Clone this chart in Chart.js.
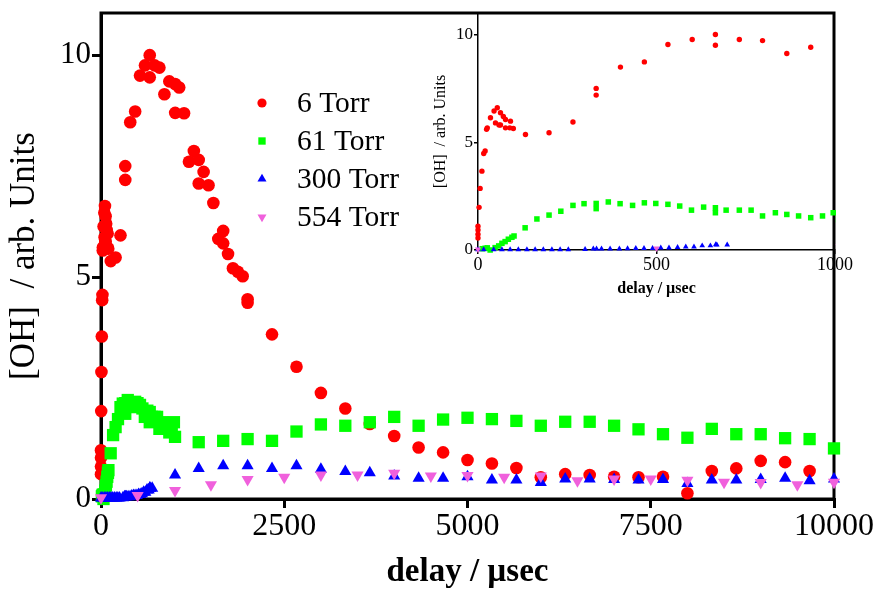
<!DOCTYPE html>
<html>
<head>
<meta charset="utf-8">
<script src="https://cdn.jsdelivr.net/npm/chart.js@4.4.1/dist/chart.umd.min.js"></script>
<style>
	body { margin: 0; background: #fff; }
	#wrap { position: relative; width: 881px; height: 592px; }
	#inset { position: absolute; left: 430px; top: 0; }
</style>
</head>
<body>
<div id="wrap">
	<canvas id="main" width="881" height="592"></canvas>
	<canvas id="inset" width="425" height="300"></canvas>
</div>
<script>
// 6 Torr
const torr6X = [0, 0, 0, 0, 3, 6, 11, 16, 20, 24, 26, 35, 45, 49, 54, 59, 63, 63, 71, 77, 77, 89, 91, 99,
	133, 199, 266, 331, 331, 399, 466, 532, 600, 665, 665, 732, 797, 865, 932, 1012, 1012, 1067, 1133,
	1200, 1267, 1333, 1333, 1400, 1467, 1533, 1600, 1667, 1667, 1733, 1800, 1867, 1933, 2000, 2000,
	2333, 2667, 3000, 3333, 3667, 4000, 4333, 4667, 5000, 5333, 5667, 6000, 6333, 6667, 7000, 7333,
	7667, 8000, 8333, 8667, 9000, 9333, 9667];
const torr6Y = [0.56, 0.73, 0.93, 1.1, 1.98, 2.86, 3.66, 4.48, 4.6, 5.6, 5.67, 6.14, 6.45, 5.9, 6.6, 5.8,
	6.37, 5.8, 6.2, 6.06, 5.67, 5.67, 5.98, 5.64, 5.36, 5.44, 5.94, 7.5, 7.19, 8.49, 8.73, 9.54, 9.77,
	10.0, 9.5, 9.77, 9.72, 9.12, 9.41, 9.35, 8.7, 9.27, 8.69, 7.6, 7.84, 7.64, 7.11, 7.37, 7.07, 6.67,
	5.86, 6.04, 5.76, 5.52, 5.2, 5.12, 5.02, 4.5, 4.42, 3.71, 2.98, 2.39, 2.04, 1.69, 1.42, 1.16, 1.05,
	0.88, 0.80, 0.70, 0.49, 0.56, 0.54, 0.50, 0.49, 0.50, 0.13, 0.63, 0.69, 0.86, 0.83, 0.63];

// 61 Torr
const torr61X = [12, 20, 26, 34, 48, 58, 67, 76, 85, 95, 101, 132, 165, 199, 232, 266, 297, 331, 331,
	365, 398, 433, 466, 498, 532, 565, 598, 632, 665, 665, 695, 732, 765, 797, 833, 865, 898, 932, 965,
	995, 1010, 1333, 1667, 2000, 2333, 2667, 3000, 3333, 3667, 4000, 4333, 4667, 5000, 5333, 5667, 6000,
	6333, 6667, 7000, 7333, 7667, 8000, 8333, 8667, 9000, 9333, 9667, 10000];
const torr61Y = [0.06, 0.08, 0.1, 0.0, 0.11, 0.19, 0.31, 0.39, 0.5, 0.59, 0.65, 1.03, 1.44, 1.62, 1.8,
	2.07, 2.15, 2.16, 1.92, 2.23, 2.15, 2.07, 2.19, 2.16, 2.12, 2.04, 1.85, 1.99, 1.96, 1.73, 1.85, 1.85,
	1.85, 1.58, 1.73, 1.65, 1.58, 1.5, 1.58, 1.73, 1.4, 1.28, 1.31, 1.35, 1.31, 1.52, 1.68, 1.65, 1.73,
	1.85, 1.65, 1.79, 1.83, 1.80, 1.76, 1.65, 1.74, 1.74, 1.65, 1.57, 1.46, 1.38, 1.58, 1.46, 1.46, 1.37,
	1.35, 1.14];

// 300 Torr
const torr300X = [0, 16, 44, 67, 90, 113, 137, 160, 183, 207, 230, 253, 300, 323, 332, 346, 370, 396,
	419, 442, 465, 489, 512, 535, 559, 582, 605, 628, 651, 666, 669, 698, 1010, 1333, 1667, 2000, 2333,
	2667, 3000, 3333, 3667, 4000, 4333, 4667, 5000, 5333, 5667, 6000, 6333, 6667, 7000, 7333, 7667,
	8000, 8333, 8667, 9000, 9333, 9667, 10000];
const torr300Y = [0.02, 0.02, 0.02, 0.02, 0.02, 0.02, 0.02, 0.02, 0.02, 0.02, 0.02, 0.02, 0.03, 0.05,
	0.05, 0.05, 0.05, 0.05, 0.07, 0.08, 0.08, 0.08, 0.1, 0.1, 0.12, 0.15, 0.15, 0.2, 0.2, 0.25, 0.24,
	0.24, 0.54, 0.69, 0.75, 0.75, 0.69, 0.75, 0.67, 0.62, 0.59, 0.52, 0.47, 0.47, 0.5, 0.43, 0.43, 0.37,
	0.45, 0.45, 0.44, 0.43, 0.44, 0.35, 0.43, 0.43, 0.44, 0.47, 0.41, 0.45];

// 554 Torr
const torr554X = [0, 500, 1010, 1500, 2000, 2500, 3000, 3500, 4000, 4500, 5000, 5500, 6000, 6500,
	7000, 7500, 8000, 8500, 9000, 9500, 10000];
const torr554Y = [0.03, 0.08, 0.19, 0.32, 0.44, 0.49, 0.54, 0.54, 0.58, 0.52, 0.53, 0.49, 0.52, 0.41,
	0.45, 0.45, 0.42, 0.38, 0.37, 0.32, 0.38];

const seriesLabels = ['6 Torr', '61 Torr', '300 Torr', '554 Torr'];
const mainXTicks = [0, 2500, 5000, 7500, 10000];
const mainYTicks = [0, 5, 10];
const insetXTicks = [0, 500, 1000];
const insetYTicks = [0, 5, 10];

const SERIF = '"Liberation Serif", "Times New Roman", serif';
Chart.defaults.font.family = SERIF;
Chart.defaults.color = '#000';

const toPoints = (xs, ys) => xs.map((x, i) => ({ x: x, y: ys[i] }));

const styles = [
	{ color: '#ff0000', pointStyle: 'circle', rotation: 0, order: 3 },
	{ color: '#00ff00', pointStyle: 'rect', rotation: 0, order: 2 },
	{ color: '#0000ff', pointStyle: 'triangle', rotation: 0, order: 1 },
	{ color: '#f060dc', pointStyle: 'triangle', rotation: 180, order: 0 },
];

function buildDatasets(radii, clip) {
	const data = [
		toPoints(torr6X, torr6Y),
		toPoints(torr61X, torr61Y),
		toPoints(torr300X, torr300Y),
		toPoints(torr554X, torr554Y),
	];
	return data.map((pts, i) => ({
		label: seriesLabels[i],
		data: pts,
		backgroundColor: styles[i].color,
		borderWidth: 0,
		pointStyle: styles[i].pointStyle,
		pointRotation: styles[i].rotation,
		pointRadius: radii[i],
		pointHoverRadius: radii[i],
		order: styles[i].order,
		clip: clip,
	}));
}

const fixTicks = (values) => (scale) => {
	scale.ticks = values.map((v) => ({ value: v }));
};
const plainLabel = (v) => String(v);

// thick box round the main plot
const framePlugin = {
	id: 'frame',
	beforeDatasetsDraw(chart) {
		const { left, top, right, bottom } = chart.chartArea;
		const ctx = chart.ctx;
		ctx.save();
		ctx.strokeStyle = '#000';
		ctx.lineWidth = 3;
		ctx.strokeRect(left, top, right - left, bottom - top);
		ctx.restore();
	},
};

// legend drawn inside the plot
const legendRadii = [4.6, 5.2, 5.2, 5.2];
const legendPlugin = {
	id: 'torrLegend',
	afterDatasetsDraw(chart) {
		const ctx = chart.ctx;
		ctx.save();
		ctx.font = '29.5px ' + SERIF;
		ctx.textBaseline = 'middle';
		chart.data.datasets.forEach((ds, i) => {
			const y = 103 + i * 38;
			ctx.fillStyle = ds.backgroundColor;
			Chart.helpers.drawPoint(ctx, {
				pointStyle: ds.pointStyle,
				radius: legendRadii[i],
				rotation: ds.pointRotation,
				borderWidth: 0,
			}, 262, y);
			ctx.fillStyle = '#000';
			ctx.fillText(ds.label, 297, y + 1);
		});
		ctx.restore();
	},
};

new Chart(document.getElementById('main'), {
	type: 'scatter',
	data: { datasets: buildDatasets([6.3, 8.7, 7, 7], false) },
	options: {
		responsive: false,
		animation: false,
		layout: { padding: { left: 0, top: 13, right: 47, bottom: 0 } },
		plugins: { legend: { display: false }, tooltip: { enabled: false } },
		scales: {
			x: {
				type: 'linear',
				min: 0,
				max: 10000,
				afterBuildTicks: fixTicks(mainXTicks),
				afterFit: (s) => { s.height = 93; s.paddingLeft = 0; s.paddingRight = 0; },
				border: { color: '#000', width: 3 },
				grid: { drawOnChartArea: false, color: '#000', lineWidth: 3, tickLength: 9 },
				ticks: { autoSkip: false, maxRotation: 0, padding: -1, font: { size: 32 }, callback: plainLabel },
				title: {
					display: true,
					text: 'delay / µsec',
					font: { size: 33, weight: 'bold' },
					padding: { top: 0, bottom: 0 },
				},
			},
			y: {
				min: 0,
				max: 10.95,
				afterBuildTicks: fixTicks(mainYTicks),
				afterFit: (s) => { s.width = 101; s.paddingTop = 0; s.paddingBottom = 0; },
				border: { color: '#000', width: 3 },
				grid: { drawOnChartArea: false, color: '#000', lineWidth: 3, tickLength: 9 },
				ticks: { padding: 1, font: { size: 31 }, callback: plainLabel },
				title: {
					display: true,
					text: '[OH]  / arb. Units',
					font: { size: 35 },
					padding: { top: 4, bottom: 0 },
				},
			},
		},
	},
	plugins: [framePlugin, legendPlugin],
});

new Chart(document.getElementById('inset'), {
	type: 'scatter',
	data: { datasets: buildDatasets([2.7, 3.9, 3.3, 3.6], { left: 8, top: 0, right: 1, bottom: 8 }) },
	options: {
		responsive: false,
		animation: false,
		layout: { padding: { left: 0, top: 13, right: 20, bottom: 0 } },
		plugins: { legend: { display: false }, tooltip: { enabled: false } },
		scales: {
			x: {
				type: 'linear',
				min: 0,
				max: 1000,
				afterBuildTicks: fixTicks(insetXTicks),
				afterFit: (s) => { s.height = 50; s.paddingLeft = 0; s.paddingRight = 0; },
				border: { color: '#000', width: 1.5 },
				grid: { drawOnChartArea: false, color: '#000', lineWidth: 1.5, tickLength: 4 },
				ticks: { autoSkip: false, maxRotation: 0, padding: 0, font: { size: 18 }, callback: plainLabel },
				title: {
					display: true,
					text: 'delay / µsec',
					font: { size: 16, weight: 'bold' },
					padding: { top: 0, bottom: 2 },
				},
			},
			y: {
				min: 0,
				max: 11,
				afterBuildTicks: fixTicks(insetYTicks),
				afterFit: (s) => { s.width = 48; s.paddingTop = 0; s.paddingBottom = 0; },
				border: { color: '#000', width: 1.5 },
				grid: { drawOnChartArea: false, color: '#000', lineWidth: 1.5, tickLength: 4 },
				ticks: { padding: 1, font: { size: 17 }, callback: plainLabel },
				title: {
					display: true,
					text: '[OH]  / arb. Units',
					font: { size: 16 },
					padding: { top: 1, bottom: 0 },
				},
			},
		},
	},
});
</script>
</body>
</html>
